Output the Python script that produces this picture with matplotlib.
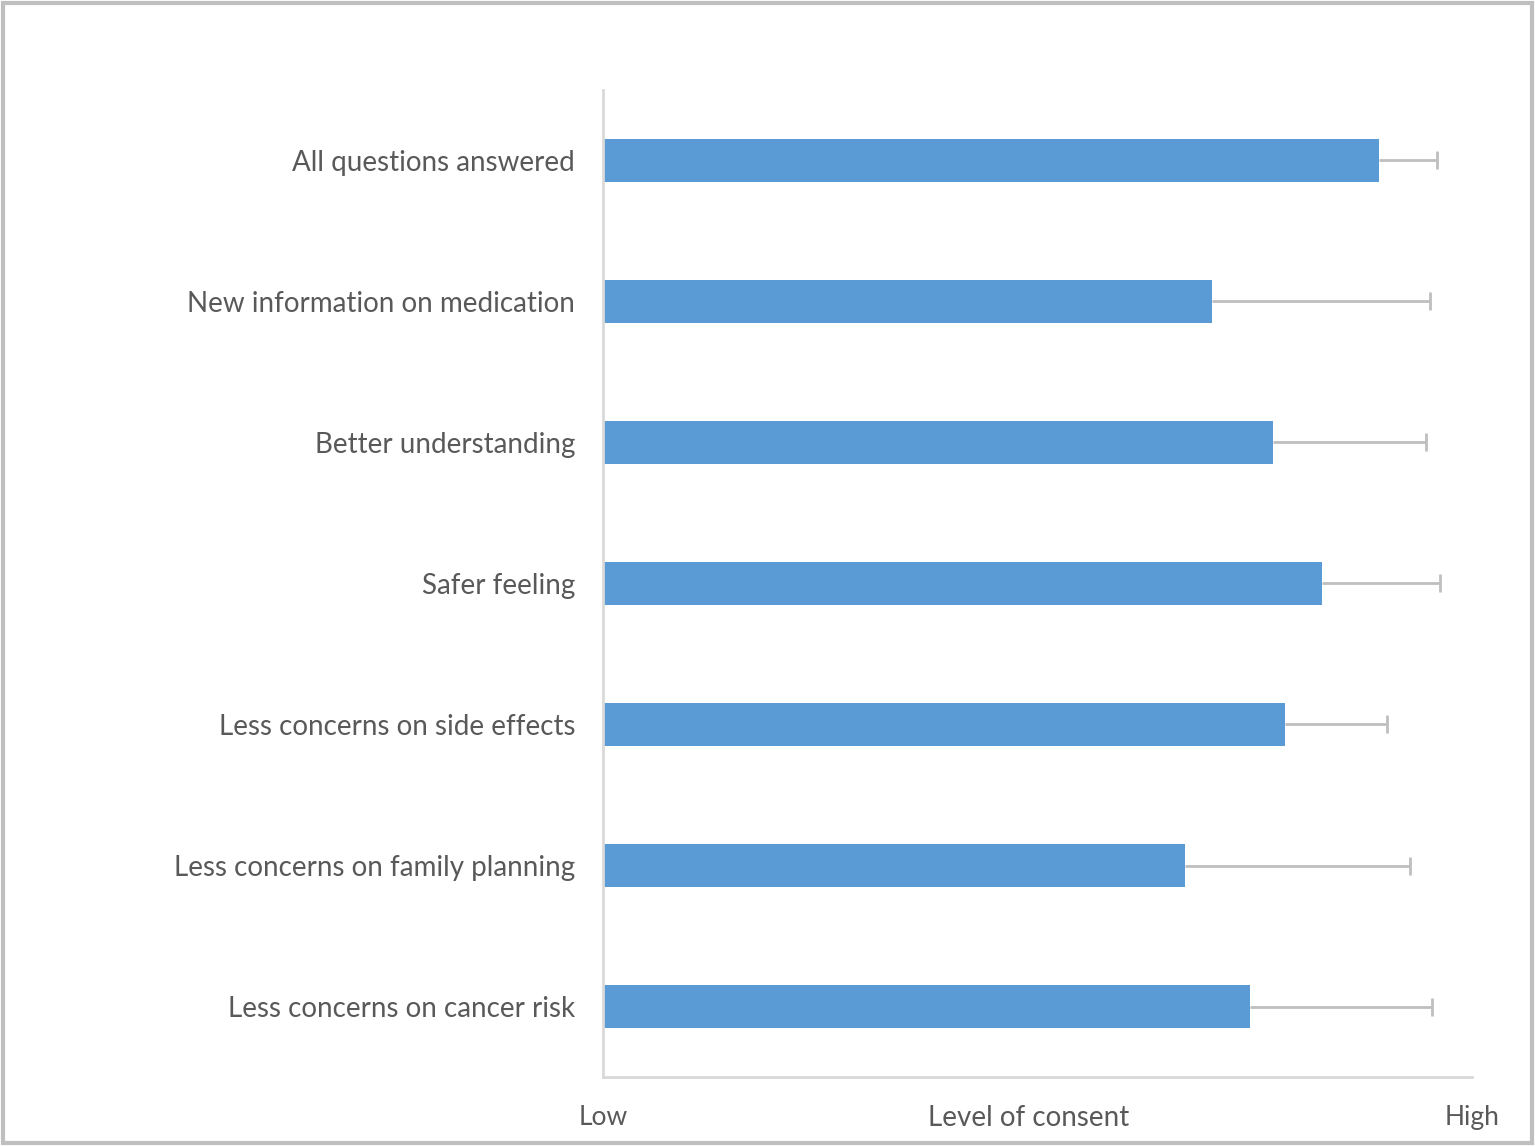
import matplotlib.pyplot as plt
from matplotlib.patches import Rectangle

# data (0 = Low, 1 = High)
items = ['All questions answered', 'New information on medication',
         'Better understanding', 'Safer feeling',
         'Less concerns on side effects', 'Less concerns on family planning',
         'Less concerns on cancer risk']
means = [0.893, 0.701, 0.771, 0.827, 0.785, 0.670, 0.745]
errs = [0.067, 0.251, 0.176, 0.136, 0.117, 0.259, 0.209]
scale_labels = ['Low', 'High']

plt.rcParams['font.family'] = ['Lato', 'DejaVu Sans']
txt = '#595959'

fig = plt.figure(figsize=(15.35, 11.46), dpi=100)
ax = fig.add_axes([0.3928, 0.0602, 0.5661, 0.8613])

pos = list(range(len(items)))[::-1]
ax.barh(pos, means, height=0.31, color='#5B9BD5', zorder=2)
# one-sided error bars: line from bar end plus a cap
tops = [m + e for m, e in zip(means, errs)]
ax.hlines(pos, means, tops, color='#BFBFBF', linewidth=2, zorder=1)
ax.plot(tops, pos, linestyle='none', marker='|', markersize=13,
        markeredgewidth=2, color='#BFBFBF', zorder=1)

ax.set_xlim(0, 1)
ax.set_ylim(-0.5, len(items) - 0.5)
ax.set_yticks(pos)
ax.set_yticklabels(items, fontsize=20, color=txt)
ax.set_xticks([0, 1])
ax.set_xticklabels(scale_labels, fontsize=19, color=txt)
ax.tick_params(length=0, pad=20, axis='y')
ax.tick_params(length=0, pad=20, axis='x')
ax.set_xlabel('Level of consent', fontsize=20, color=txt, labelpad=-10)
ax.xaxis.set_label_coords(0.49, -0.028, transform=ax.transAxes)
ax.xaxis.label.set_va('top')

for s in ['top', 'right']:
    ax.spines[s].set_visible(False)
for s in ['left', 'bottom']:
    ax.spines[s].set_color('#D9D9D9')
    ax.spines[s].set_linewidth(2)

# outer frame
fig.patches.append(Rectangle((0.002, 0.003), 0.996, 0.994, transform=fig.transFigure,
                             fill=False, edgecolor='#BFBFBF', linewidth=3))

fig.savefig('out.png', dpi=100)
